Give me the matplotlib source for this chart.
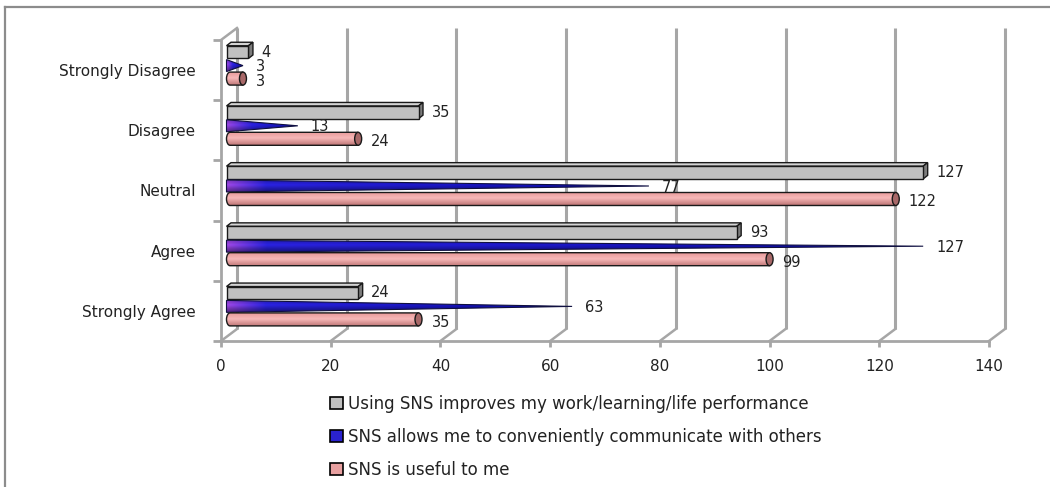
import numpy as np
import matplotlib.pyplot as plt
from matplotlib.patches import Rectangle, Polygon, Ellipse, Patch, PathPatch
from matplotlib.path import Path
from matplotlib.colors import to_rgb
from matplotlib.lines import Line2D

# survey answers, top row first
categories = ["Strongly Disagree", "Disagree", "Neutral", "Agree", "Strongly Agree"]
improves = [4, 35, 127, 93, 24]
communicate = [3, 13, 77, 127, 63]
useful = [3, 24, 122, 99, 35]
series_names = [
    "Using SNS improves my work/learning/life performance",
    "SNS allows me to conveniently communicate with others",
    "SNS is useful to me",
]
xticks = [0, 20, 40, 60, 80, 100, 120, 140]

W, H = 1050, 487
fig = plt.figure(figsize=(W / 100, H / 100), dpi=100)
ax_l, ax_r, ax_t, ax_b = 221, 989, 40, 341
ax = fig.add_axes([ax_l / W, 1 - ax_b / H, (ax_r - ax_l) / W, (ax_b - ax_t) / H])
XMAX = 140
NCAT = len(categories)
ax.set_xlim(0, XMAX)
ax.set_ylim(-0.5, NCAT - 0.5)

# pixel -> data unit helpers
ux = XMAX / (ax_r - ax_l)
uy = NCAT / (ax_b - ax_t)

wall = "#a6a6a6"
# back wall grid, shifted for the 3d depth
ddx, ddy = 16 * ux, 12 * uy
for t in xticks:
    ax.plot([t + ddx, t + ddx], [-0.5 + ddy, NCAT - 0.5 + ddy], color=wall, lw=2.2, zorder=1,
            solid_capstyle="butt", clip_on=False)
    ax.plot([t, t + ddx], [-0.5, -0.5 + ddy], color=wall, lw=1.8, zorder=1, clip_on=False)
ax.plot([0, ddx], [NCAT - 0.5, NCAT - 0.5 + ddy], color=wall, lw=1.8, zorder=1, clip_on=False)

for s in ["top", "right"]:
    ax.spines[s].set_visible(False)
for s in ["left", "bottom"]:
    ax.spines[s].set_color(wall)
    ax.spines[s].set_linewidth(2)
ax.set_xticks(xticks)
ax.set_xticklabels([str(t) for t in xticks])
ax.tick_params(axis="x", length=4, width=2, color=wall, pad=9, labelsize=11, labelcolor="#222222")
ypos = [NCAT - 1 - k for k in range(NCAT)]
ax.set_yticks(ypos)
ax.set_yticklabels(categories)
ax.tick_params(axis="y", which="major", length=0, pad=18, labelsize=11, labelcolor="#222222")
ax.set_yticks([k - 0.5 for k in range(NCAT + 1)], minor=True)
ax.tick_params(axis="y", which="minor", length=6, width=2, color=wall)

b0 = 5.5 * ux  # bars start a little inside the wall


def grad_fill(patch, img, extent, z):
    im = ax.imshow(img, extent=extent, origin="lower", aspect="auto", zorder=z,
                   interpolation="bilinear")
    im.set_clip_path(patch)


def box(v, y):
    h = 12.7 * uy
    d, e = 4.5 * ux, 3.5 * uy
    x1 = b0 + v
    top = Polygon([(b0, y + h / 2), (x1, y + h / 2), (x1 + d, y + h / 2 + e), (b0 + d, y + h / 2 + e)],
                  closed=True, fc="#d4d4d4", ec="#1a1a1a", lw=1, zorder=3)
    side = Polygon([(x1, y - h / 2), (x1, y + h / 2), (x1 + d, y + h / 2 + e), (x1 + d, y - h / 2 + e)],
                   closed=True, fc="#7c7c7c", ec="#1a1a1a", lw=1, zorder=3)
    front = Rectangle((b0, y - h / 2), v, h, fc="#c0c0c0", ec="#1a1a1a", lw=1, zorder=3)
    for p in (top, side, front):
        ax.add_patch(p)


def cone(v, y):
    h = 12 * uy
    x1 = b0 + v
    poly = Polygon([(b0, y - h / 2), (b0, y + h / 2), (x1, y)], closed=True,
                   fc="none", ec="#101040", lw=0.8, zorder=4.2)
    ax.add_patch(poly)
    # purple at the base fading into blue
    n = 200
    t = np.linspace(0, 1, n)
    c0, c1, c2 = np.array(to_rgb("#9b46e6")), np.array(to_rgb("#2a22e0")), np.array(to_rgb("#0a0aa8"))
    fade = 0.35 * 20 / max(v, 20)
    row = np.where(t[:, None] < fade, c0 + (c1 - c0) * (t[:, None] / fade),
                   c1 + (c2 - c1) * ((t[:, None] - fade) / (1 - fade)))
    vert = np.concatenate([np.linspace(0.55, 1.0, 12), np.linspace(1.0, 0.8, 8)])
    img = np.clip(vert[:, None, None] * row[None, :, :], 0, 1)
    clip = Polygon(poly.get_xy(), closed=True, transform=ax.transData)
    grad_fill(clip, img, [b0, x1, y - h / 2, y + h / 2], 4)


def cylinder(v, y):
    h = 13 * uy
    w = 7 * ux
    x1 = b0 + v
    r = w / 2
    k = 0.5523
    verts = [(b0 + r, y - h / 2), (x1, y - h / 2), (x1, y + h / 2), (b0 + r, y + h / 2),
             (b0 + r - k * r, y + h / 2), (b0, y + k * h / 2), (b0, y),
             (b0, y - k * h / 2), (b0 + r - k * r, y - h / 2), (b0 + r, y - h / 2)]
    codes = [Path.MOVETO, Path.LINETO, Path.LINETO, Path.LINETO,
             Path.CURVE4, Path.CURVE4, Path.CURVE4, Path.CURVE4, Path.CURVE4, Path.CURVE4]
    body = PathPatch(Path(verts, codes), fc="none", ec="#1a1a1a", lw=1, zorder=5.2)
    ax.add_patch(body)
    top_c, mid_c, bot_c = np.array(to_rgb("#e89a9a")), np.array(to_rgb("#f7b8b8")), np.array(to_rgb("#c07878"))
    s = np.linspace(0, 1, 40)[:, None]
    col = np.where(s > 0.55, mid_c + (top_c - mid_c) * ((s - 0.55) / 0.45),
                   bot_c + (mid_c - bot_c) * (s / 0.55))
    img = np.repeat(col[:, None, :], 2, axis=1)
    clip = PathPatch(Path(verts, codes), transform=ax.transData)
    grad_fill(clip, img, [b0, x1, y - h / 2, y + h / 2], 5)
    ax.add_patch(Ellipse((x1, y), w, h, fc="#a86868", ec="#1a1a1a", lw=1, zorder=5.3))


lbl = dict(fontsize=10.5, color="#222222", va="center", ha="left")
gap = 13 * ux
for k, y in enumerate(ypos):
    yg, yb, yp = y + 18 * uy, y + 4.5 * uy, y - 8.5 * uy
    box(improves[k], yg)
    cone(communicate[k], yb)
    cylinder(useful[k], yp)
    ax.text(b0 + improves[k] + gap, yg, str(improves[k]), zorder=6, **lbl)
    ax.text(b0 + communicate[k] + gap, yb - 1 * uy, str(communicate[k]), zorder=4.5, **lbl)
    ax.text(b0 + useful[k] + gap, yp - 3 * uy, str(useful[k]), zorder=6, **lbl)

ax.set_xlim(0, XMAX)
ax.set_ylim(-0.5, NCAT - 0.5)

handles = [Patch(fc="#c0c0c0", ec="black", lw=1.2),
           Patch(fc="#2a22d0", ec="black", lw=1.2),
           Patch(fc="#e8a0a0", ec="black", lw=1.2)]
fig.legend(handles, series_names, loc="upper left", bbox_to_anchor=(330 / W, 1 - 395 / H),
           frameon=False, fontsize=12, handlelength=0.75, handleheight=0.75,
           handletextpad=0.3, labelspacing=0.9, borderpad=0, borderaxespad=0,
           labelcolor="#222222")

# outer chart border
fig.add_artist(Line2D([5 / W, 5 / W], [0, 1 - 7 / H], color="#8c8c8c", lw=1.6, transform=fig.transFigure))
fig.add_artist(Line2D([5 / W, 1], [1 - 7 / H, 1 - 7 / H], color="#8c8c8c", lw=1.6, transform=fig.transFigure))

fig.savefig("out.png", dpi=100)
